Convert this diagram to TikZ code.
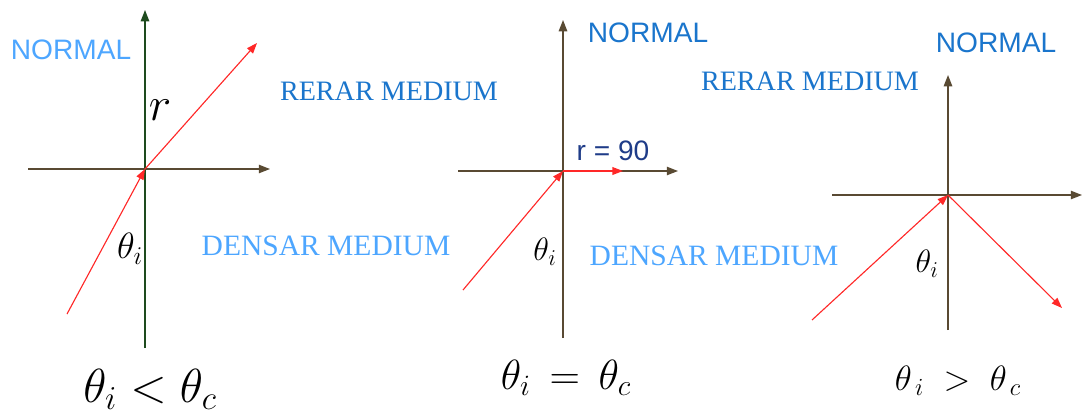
\documentclass[tikz,border=0pt]{standalone}
\usepackage{fix-cm}
\usepackage{fontspec}
\setmainfont{Liberation Serif}
\newfontfamily\arialfont{Liberation Sans}
\usetikzlibrary{arrows.meta}
\definecolor{axisbrown}{RGB}{89,74,51}
\definecolor{axisgreen}{RGB}{30,75,30}
\definecolor{rayred}{RGB}{255,40,40}
\definecolor{lightblue}{RGB}{77,166,255}
\definecolor{midblue}{RGB}{26,117,204}
\definecolor{navyblue}{RGB}{31,60,136}
\tikzset{
  axis/.style={draw=axisbrown,line width=0.95pt,-{Triangle[length=8pt,width=6pt]}},
  ray/.style={draw=rayred,line width=0.8pt,-{Triangle[length=7.5pt,width=5.5pt]}},
  sanslabel/.style={font=\arialfont\fontsize{20}{24}\selectfont},
  mediumlabel/.style={font=\fontsize{20}{24}\selectfont},
}
\begin{document}
\begin{tikzpicture}[x=0.025cm,y=-0.025cm,every node/.style={inner sep=0pt}]
  \useasboundingbox (0,0) rectangle (1083,417);
  % first case: refraction
  \coordinate (oa) at (145,169);
  \coordinate (nta) at (145,10);
  \coordinate (nba) at (145,348);
  \coordinate (hla) at (28,169);
  \coordinate (hra) at (270,169);
  \coordinate (ia) at (67,314);
  \coordinate (ra) at (257,43);
  \draw[axis,draw=axisgreen] (nba) -- (nta);
  \draw[axis] (hla) -- (hra);
  \draw[ray] (ia) -- (oa);
  \draw[ray] (oa) -- (ra);
  \node[sanslabel,text=lightblue] (norma) at (71,50) {NORMAL};
  \node[mediumlabel,text=midblue] (rarera) at (389,91) {RERAR MEDIUM};
  \node[mediumlabel,font=\fontsize{21}{24}\selectfont,text=lightblue] (densera) at (326,246) {DENSAR MEDIUM};
  \node[font=\fontsize{34}{36}\selectfont] (rlab) at (160,110) {$r$};
  \node[font=\fontsize{26}{28}\selectfont] (thetaa) at (130,249) {$\theta_i$};
  \node[font=\fontsize{34}{36}\selectfont] (conda) at (150,389) {$\theta_i<\theta_c$};
  % second case: critical angle
  \coordinate (ob) at (563,171);
  \coordinate (ntb) at (563,20);
  \coordinate (nbb) at (563,338);
  \coordinate (hlb) at (458,171);
  \coordinate (hrb) at (678,171);
  \coordinate (ib) at (463,290);
  \coordinate (rb) at (623,171);
  \draw[axis] (nbb) -- (ntb);
  \draw[axis] (hlb) -- (hrb);
  \draw[ray] (ib) -- (ob);
  \draw[ray] (ob) -- (rb);
  \node[sanslabel,text=midblue] (normb) at (648,33) {NORMAL};
  \node[sanslabel,text=navyblue] (rninety) at (613,151) {r = 90};
  \node[mediumlabel,font=\fontsize{21}{24}\selectfont,text=lightblue] (denserb) at (714,256) {DENSAR MEDIUM};
  \node[font=\fontsize{23}{26}\selectfont] (thetab) at (545,252) {$\theta_i$};
  \node[font=\fontsize{30}{34}\selectfont] (condb) at (566,378) {$\theta_i\,=\,\theta_c$};
  % third case: total internal reflection
  \coordinate (oc) at (948,195);
  \coordinate (ntc) at (948,75);
  \coordinate (nbc) at (948,330);
  \coordinate (hlc) at (832,195);
  \coordinate (hrc) at (1082,195);
  \coordinate (ic) at (812,320);
  \coordinate (rc) at (1062,308);
  \draw[axis] (nbc) -- (ntc);
  \draw[axis] (hlc) -- (hrc);
  \draw[ray] (ic) -- (oc);
  \draw[ray] (oc) -- (rc);
  \node[sanslabel,text=midblue] (normc) at (996,43) {NORMAL};
  \node[mediumlabel,text=midblue] (rarerc) at (810,81) {RERAR MEDIUM};
  \node[font=\fontsize{23}{26}\selectfont] (thetac) at (927,264) {$\theta_i$};
  \node[font=\fontsize{25}{28}\selectfont] (condc) at (958,381) {$\theta_{\,i}\;>\;\theta_{\,c}$};
\end{tikzpicture}
\end{document}
